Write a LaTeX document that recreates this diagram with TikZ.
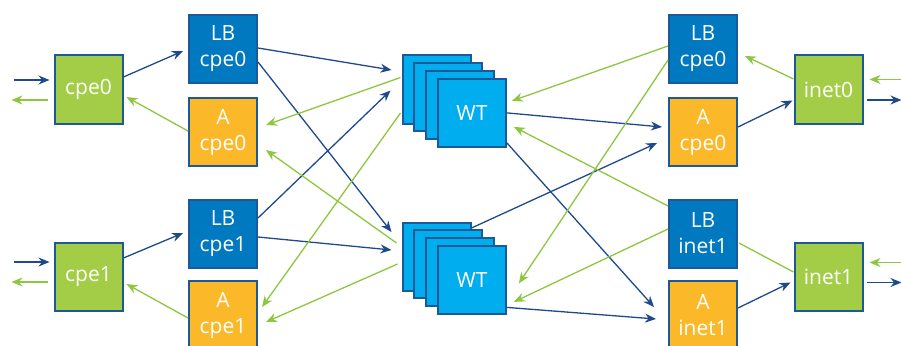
\documentclass[tikz,border=0pt]{standalone}
\usepackage{fontspec}
\setmainfont{Open Sans}
\usetikzlibrary{arrows.meta}
\definecolor{edge}{HTML}{1B5A96}
\definecolor{lbblue}{HTML}{0079C1}
\definecolor{aorange}{HTML}{FBB829}
\definecolor{epgreen}{HTML}{A3CD46}
\definecolor{wtblue}{HTML}{00AEEF}
\definecolor{navy}{HTML}{1E4A8C}
\definecolor{lime}{HTML}{8DC63F}
\begin{document}
\begin{tikzpicture}[x=1pt, y=-1pt,
	box/.style = {rectangle, draw=edge, line width=2pt, minimum size=68pt, inner sep=0pt, text=white, align=center, font=\fontsize{21}{26}\selectfont},
	lbbox/.style = {box, fill=lbblue},
	abox/.style = {box, fill=aorange},
	epbox/.style = {box, fill=epgreen},
	wtbox/.style = {box, fill=wtblue},
	blueline/.style = {draw=navy, line width=1.3pt, -{Stealth[length=11pt, width=9pt]}},
	greenline/.style = {draw=lime, line width=1.3pt, -{Stealth[length=11pt, width=9pt]}}]
	\clip (0,0) rectangle (901,345);
	% endpoints
	\node (cpe0) [epbox] at (88.5,89.5) {cpe0};
	\node (cpe1) [epbox] at (88.5,276.5) {cpe1};
	\node (inet0) [epbox] at (828.5,89.5) {inet0};
	\node (inet1) [epbox] at (828.5,276.5) {inet1};
	% cpe side
	\node (lbc0) [lbbox] at (223,49) {LB\\cpe0};
	\node (ac0) [abox] at (223,132) {A\\cpe0};
	\node (lbc1) [lbbox] at (223,233.5) {LB\\cpe1};
	\node (ac1) [abox] at (223,315) {A\\cpe1};
	% inet side
	\node (lbi0) [lbbox] at (703,49) {LB\\cpe0};
	\node (ai0) [abox] at (703,132) {A\\cpe0};
	\node (lbi1) [lbbox] at (703,233.5) {LB\\inet1};
	\node (ai1) [abox] at (703,315) {A\\inet1};
	% worker stacks
	\foreach \s/\y in {0/89.5, 1/256.5} {
		\foreach \i in {0,1,2}
			\node (wt\s-\i) [wtbox] at (436.5+11.8*\i, \y+7.8*\i) {};
		\node (wt\s) [wtbox] at (471.9, \y+23.4) {WT};
	}
	% outside traffic
	\foreach \n/\a/\b in {cpe0/-9.5/10.5, cpe1/-14.5/5.5} {
		\draw [blueline] ([shift={(-40,\a)}]\n.west) -- ([shift={(-4,\a)}]\n.west);
		\draw [greenline] ([shift={(-6,\b)}]\n.west) -- ([shift={(-42,\b)}]\n.west);
	}
	\foreach \n/\a/\b in {inet0/-10/10.5, inet1/-14/6} {
		\draw [greenline] ([shift={(38,\a)}]\n.east) -- ([shift={(6,\a)}]\n.east);
		\draw [blueline] ([shift={(3,\b)}]\n.east) -- ([shift={(38,\b)}]\n.east);
	}
	% cpe side
	\draw [blueline] ([shift={(0,-12.5)}]cpe0.east) -- ([shift={(-5,2)}]lbc0.west);
	\draw [greenline] ([shift={(0,-1)}]ac0.west) -- ([shift={(3,7.5)}]cpe0.east);
	\draw [blueline] ([shift={(0,-18.5)}]cpe1.east) -- ([shift={(-5,-0.5)}]lbc1.west);
	\draw [greenline] ([shift={(0,3)}]ac1.west) -- ([shift={(3,7.5)}]cpe1.east);
	\draw [blueline] ([shift={(0,-1)}]lbc0.east) -- ([shift={(-10,-19.5)}]wt0-0.west);
	\draw [blueline] ([shift={(0,13)}]lbc0.east) -- ([shift={(-10,-24.5)}]wt1-0.west);
	\draw [blueline] ([shift={(0,-15.5)}]lbc1.east) -- ([shift={(-11,1)}]wt0-0.west);
	\draw [blueline] ([shift={(0,3.5)}]lbc1.east) -- ([shift={(-10,-6.5)}]wt1-0.west);
	\draw [greenline] ([shift={(-1,-12)}]wt0-0.west) -- ([shift={(8,-7)}]ac0.east);
	\draw [greenline] ([shift={(-1,23.5)}]wt0-0.west) -- ([shift={(4,-8)}]ac1.east);
	\draw [greenline] ([shift={(-5,-13.5)}]wt1-0.west) -- ([shift={(8,18)}]ac0.east);
	\draw [greenline] ([shift={(-4,7.5)}]wt1-0.west) -- ([shift={(8,7)}]ac1.east);
	% inet side
	\draw [blueline] (wt0.east) -- ([shift={(-6,-5)}]ai0.west);
	\draw [blueline] ([shift={(0,30)}]wt0.east) -- ([shift={(-14,-8)}]ai1.west);
	\draw [blueline] ([shift={(0,-28.5)}]wt1-0.east) -- ([shift={(-11,11)}]ai0.west);
	\draw [blueline] ([shift={(0,27.5)}]wt1.east) -- ([shift={(-12,4)}]ai1.west);
	\draw [greenline] ([shift={(0,-3)}]lbi0.west) -- ([shift={(5,-12)}]wt0.east);
	\draw [greenline] ([shift={(0,11)}]lbi0.west) -- ([shift={(12,3.5)}]wt1.east);
	\draw [greenline] ([shift={(0,-27.5)}]lbi1.west) -- ([shift={(7,14)}]wt0.east);
	\draw [greenline] ([shift={(0,-4.5)}]lbi1.west) -- ([shift={(7,22)}]wt1.east);
	\draw [greenline] ([shift={(0,-10.5)}]inet0.west) -- ([shift={(7,7)}]lbi0.east);
	\draw [blueline] ([shift={(0,-5)}]ai0.east) -- ([shift={(-1,11)}]inet0.west);
	\draw [greenline, -] ([shift={(0,-4.5)}]inet1.west) -- ([shift={(1,9.5)}]lbi1.east);
	\draw [blueline] ([shift={(0,-7)}]ai1.east) -- ([shift={(-3,6)}]inet1.west);
\end{tikzpicture}
\end{document}
